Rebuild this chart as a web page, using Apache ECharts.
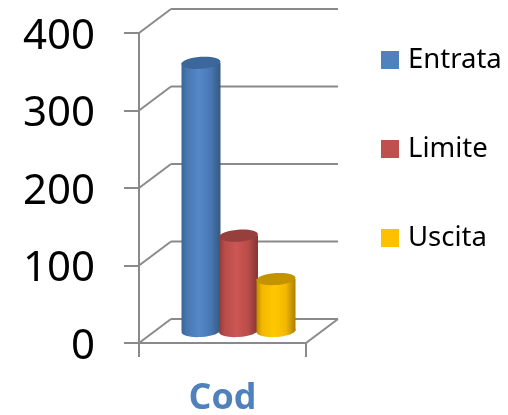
<!DOCTYPE html>
<html><head><meta charset="utf-8">
<style>html,body{margin:0;padding:0;background:#fff}#c{width:508px;height:415px}</style>
<script src="https://cdn.jsdelivr.net/npm/echarts@6/dist/echarts.min.js"></script></head>
<body><div id="c"></div>
<script>
const categories = ['Cod'];
const yTicks = [0, 100, 200, 300, 400];
const entrata = [346];
const limite = [123];
const uscita = [67];

const DX = 32, DY = 24;       // depth of the 3D box
const AXIS = '#8a8a8a';
const chart = echarts.init(document.getElementById('c'), null, {renderer: 'canvas'});

function grad(edge1, mid, edge2) {
  return new echarts.graphic.LinearGradient(0, 0, 1, 0, [
    {offset: 0, color: edge1}, {offset: 0.14, color: mid[0]}, {offset: 0.45, color: mid[1]},
    {offset: 0.75, color: mid[0]}, {offset: 1, color: edge2}
  ]);
}
function cylinder(slot, fill, topColor) {
  return function (params, api) {
    const base = api.coord([api.value(0), 0]);
    const top = api.coord([api.value(0), api.value(1)]);
    const cx = base[0] + DX / 2 + slot * 37.5;
    const by = base[1] - DY / 2, ty = top[1] - DY / 2;
    const rx = 19.5, ry = 6, rot = 4 * Math.PI / 180;
    return {type: 'group', children: [
      {type: 'ellipse', x: cx, y: by, rotation: rot, shape: {cx: 0, cy: 0, rx: rx, ry: ry}, style: {fill: fill}},
      {type: 'rect', shape: {x: cx - rx, y: ty, width: rx * 2, height: by - ty}, style: {fill: fill}},
      {type: 'ellipse', x: cx, y: ty, rotation: rot, shape: {cx: 0, cy: 0, rx: rx, ry: ry}, style: {fill: topColor}}
    ]};
  };
}
function frame(params, api) {
  const v = api.value(0);
  const p = api.coord([0, v]);
  const s = api.size([1, 0])[0];
  const x0 = p[0] - s / 2, x1 = p[0] + s / 2, y = p[1];
  const ls = {stroke: AXIS, lineWidth: 2, fill: null};
  const kids = [
    {type: 'line', shape: {x1: x0, y1: y, x2: x0 + DX, y2: y - DY}, style: ls},
    {type: 'line', shape: {x1: x0 + DX, y1: y - DY, x2: x1 + DX, y2: y - DY}, style: ls}
  ];
  if (v === 0) kids.push({type: 'line', shape: {x1: x1, y1: y, x2: x1 + DX, y2: y - DY}, style: ls});
  return {type: 'group', children: kids};
}
const BLUE = '#4f81bd', RED = '#c0504d', YEL = '#ffc000';
chart.setOption({
  animation: false,
  backgroundColor: '#fff',
  grid: {left: 139, top: 33, width: 167, height: 310, outerBoundsMode: 'none'},
  legend: {
    orient: 'vertical', left: 381, top: 43, padding: 0, itemWidth: 18, itemHeight: 18, itemGap: 55, icon: 'rect',
    textStyle: {fontFamily: 'Noto Sans', fontSize: 27.5, color: '#000', padding: [0,0,0,4], height: 34, lineHeight: 34},
    data: ['Entrata', 'Limite', 'Uscita'].map(n => ({name: n, icon: 'rect'}))
  },
  xAxis: {
    type: 'category', data: categories, boundaryGap: true,
    axisLine: {lineStyle: {color: AXIS, width: 2}},
    axisTick: {show: true, length: 14, lineStyle: {color: AXIS, width: 2}},
    axisLabel: {interval: 0, margin: 38, fontFamily: 'Open Sans', fontWeight: 'bold', fontSize: 36, color: BLUE}
  },
  yAxis: {
    type: 'value', min: 0, max: 400, interval: 100,
    axisLine: {show: true, lineStyle: {color: AXIS, width: 2}},
    axisTick: {show: true, length: 15, lineStyle: {color: AXIS, width: 2}},
    splitLine: {show: false},
    axisLabel: {margin: 44, fontFamily: 'Noto Sans', fontSize: 42, color: '#000', verticalAlign: 'top', lineHeight: 8}
  },
  series: [
    {type: 'custom', name: 'frame', z: 1, silent: true, renderItem: frame, data: yTicks.map(v => [v]), encode: {y: 0}},
    {type: 'custom', name: 'Entrata', z: 3, renderItem: cylinder(-1, grad('#3a6696', ['#4877b2', '#5688c8'], '#36597f'), '#3c679b'),
     itemStyle: {color: BLUE}, data: entrata.map((v, i) => [i, v]), encode: {x: 0, y: 1}},
    {type: 'custom', name: 'Limite', z: 4, renderItem: cylinder(0, grad('#8e3a38', ['#b84c49', '#cc5653'], '#843533'), '#973f3d'),
     itemStyle: {color: RED}, data: limite.map((v, i) => [i, v]), encode: {x: 0, y: 1}},
    {type: 'custom', name: 'Uscita', z: 5, renderItem: cylinder(1, grad('#b98b00', ['#f4b800', '#ffc800'], '#ab8000'), '#c39300'),
     itemStyle: {color: YEL}, data: uscita.map((v, i) => [i, v]), encode: {x: 0, y: 1}}
  ]
});
</script></body></html>
